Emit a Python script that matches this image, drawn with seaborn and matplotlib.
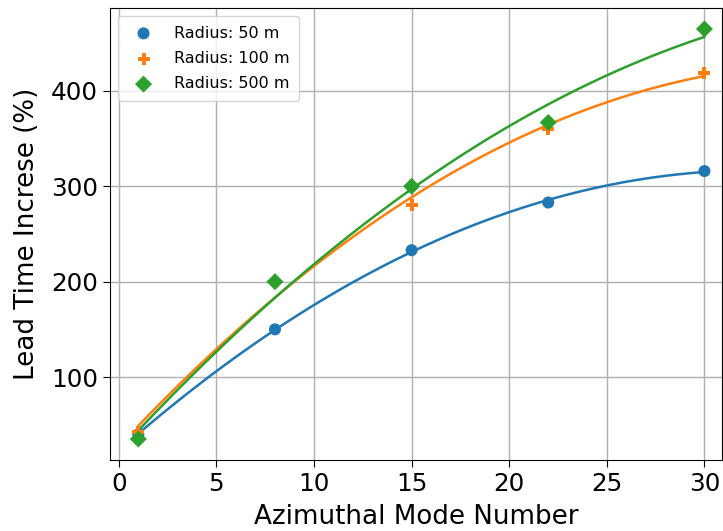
import numpy as np
import pandas as pd
import matplotlib
matplotlib.use("Agg")
import matplotlib.pyplot as plt
import seaborn as sns

modes = [1, 8, 15, 22, 30]
r50 = [40, 150, 233, 283, 316]
r100 = [42, 200, 280, 360, 419]
r500 = [35, 200, 300, 367, 465]
labels = ["Radius: 50 m", "Radius: 100 m", "Radius: 500 m"]
colors = ["#1f77b4", "#ff7f0e", "#2ca02c"]
markers = ["o", "P", "D"]

sns.set_style("ticks")
plt.rcParams["font.family"] = ["DejaVu Sans"]
plt.rcParams["text.color"] = "black"
plt.rcParams["axes.labelcolor"] = "black"
plt.rcParams["xtick.color"] = "black"
plt.rcParams["ytick.color"] = "black"

fig = plt.figure(figsize=(7.23, 5.31), dpi=100)
ax = fig.add_axes([110/723, 1-460/531, 612/723, 452/531])

xs = np.linspace(1, 30, 200)
for vals, lab, c, m in zip([r50, r100, r500], labels, colors, markers):
    df = pd.DataFrame({"x": modes, "y": vals})
    sns.scatterplot(data=df, x="x", y="y", ax=ax, color=c, marker=m, s=75,
                    edgecolor="none", label=lab, zorder=3)
    coef = np.polyfit(modes, vals, 2)
    sns.lineplot(x=xs, y=np.polyval(coef, xs), ax=ax, color=c, lw=1.8, zorder=2)

ax.set_xlim(-0.45, 30.9)
ax.set_ylim(13, 487)
ax.set_xticks([0, 5, 10, 15, 20, 25, 30])
ax.set_yticks([100, 200, 300, 400])
ax.grid(True, color="#b0b0b0", lw=1)
ax.tick_params(labelsize=17.7, direction="out", length=5, color="black")
for s in ax.spines.values():
    s.set_color("black")
ax.set_xlabel("Azimuthal Mode Number", fontsize=18.8, labelpad=6)
ax.set_ylabel("Lead Time Increse (%)", fontsize=18.8, labelpad=8)
ax.legend(loc="upper left", fontsize=11.5, frameon=True, handletextpad=0.9,
          labelspacing=0.65, borderpad=0.6)

fig.savefig("out.png", dpi=100)
